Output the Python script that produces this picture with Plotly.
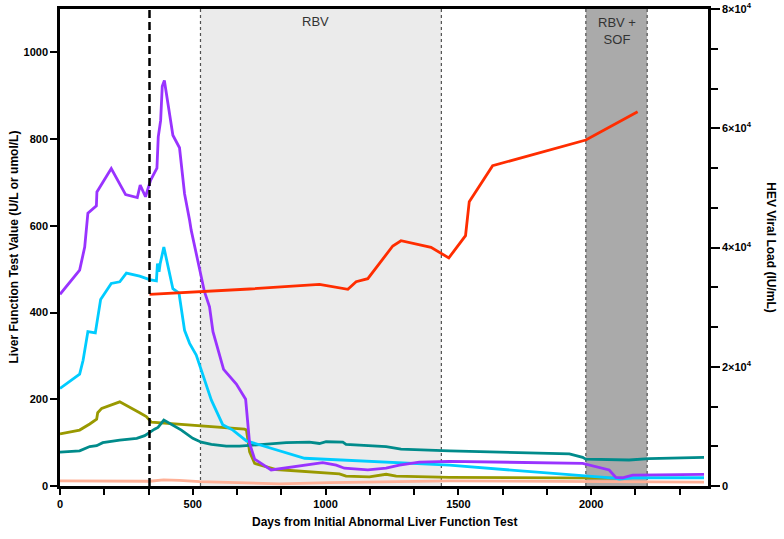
import plotly.graph_objects as go

# ---------------- data ----------------
purple_days = [0, 74, 93, 105, 137, 139, 193, 247, 291, 302, 322, 341, 365, 370, 379, 385, 393,
               425, 450, 469, 488, 494, 544, 563, 576, 616, 664, 699, 714, 733, 795, 927, 989,
               1040, 1071, 1159, 1228, 1278, 1353, 1466, 1968, 2068, 2093, 2118, 2156, 2425]
purple_vals = [442, 498, 551, 629, 646, 678, 732, 672, 665, 694, 667, 705, 733, 805, 843, 922, 935,
               809, 780, 674, 613, 590, 448, 413, 356, 269, 235, 200, 98, 62, 37, 48, 54,
               48, 41, 37, 41, 48, 55, 57, 52, 37, 20, 19, 25, 27]

blue_days = [0, 74, 87, 105, 133, 153, 193, 225, 250, 300, 337, 363, 367, 373, 377, 391, 425,
             448, 469, 488, 513, 570, 613, 651, 702, 921, 1466, 1968, 2087, 2106, 2156, 2425]
blue_vals = [225, 258, 290, 356, 353, 430, 467, 471, 491, 484, 476, 473, 513, 494, 512, 551, 455,
             445, 359, 329, 302, 198, 141, 129, 104, 64, 48, 25, 18, 16, 19, 19]

olive_days = [0, 74, 112, 138, 142, 157, 225, 247, 300, 325, 344, 695, 702, 714, 733, 814, 939,
              1052, 1077, 1165, 1228, 1266, 1466, 2093]
olive_vals = [120, 129, 143, 154, 169, 179, 194, 187, 169, 160, 147, 131, 129, 79, 52, 38, 32,
              28, 23, 21, 27, 23, 20, 18]

teal_days = [0, 74, 112, 138, 161, 225, 289, 319, 356, 369, 391, 425, 457, 500, 532, 570, 626,
             676, 714, 764, 852, 939, 977, 1002, 1065, 1077, 1228, 1284, 1466, 1918, 1968, 1980,
             2143, 2218, 2425]
teal_vals = [78, 81, 91, 93, 100, 106, 110, 116, 131, 135, 152, 141, 129, 110, 101, 96, 92,
             92, 94, 96, 100, 101, 98, 102, 101, 96, 91, 85, 81, 74, 66, 62,
             60, 63, 66]

salmon_days = [0, 200, 337, 390, 450, 526, 827, 1015, 1466, 2425]
salmon_vals = [12, 11, 11, 14, 13, 10, 5, 8, 12, 9]

hev_days = [337, 714, 977, 1015, 1084, 1115, 1159, 1253, 1284, 1397, 1464, 1527, 1541, 1629,
            1980, 2175]
hev_vals = [32150, 33040, 33820, 33540, 32990, 34260, 34770, 40250, 41140, 40030, 38250,
            41980, 47680, 53720, 58030, 62770]

treatment_start = 337
rbv_period = [529, 1436]
rbv_sof_period = [1980, 2211]

x_ticks = [0, 500, 1000, 1500, 2000]
y_ticks = [0, 200, 400, 600, 800, 1000]
y2_ticks = [0, 20000, 40000, 60000, 80000]
y2_labels = ["0", "2×10<sup>4</sup>", "4×10<sup>4</sup>", "6×10<sup>4</sup>", "8×10<sup>4</sup>"]

# ---------------- figure ----------------
FONT = "Liberation Sans"
fig = go.Figure()

lw = 2.8
fig.add_trace(go.Scatter(x=salmon_days, y=salmon_vals, mode="lines",
                         line=dict(color="rgb(255,176,150)", width=lw), showlegend=False))
fig.add_trace(go.Scatter(x=olive_days, y=olive_vals, mode="lines",
                         line=dict(color="rgb(153,153,0)", width=lw), showlegend=False))
fig.add_trace(go.Scatter(x=teal_days, y=teal_vals, mode="lines",
                         line=dict(color="rgb(0,139,139)", width=lw), showlegend=False))
fig.add_trace(go.Scatter(x=blue_days, y=blue_vals, mode="lines",
                         line=dict(color="rgb(0,204,255)", width=lw), showlegend=False))
fig.add_trace(go.Scatter(x=purple_days, y=purple_vals, mode="lines",
                         line=dict(color="rgb(153,51,255)", width=lw), showlegend=False))
fig.add_trace(go.Scatter(x=hev_days, y=hev_vals, mode="lines", yaxis="y2",
                         line=dict(color="rgb(255,45,0)", width=lw), showlegend=False))

# shaded treatment periods
fig.add_shape(type="rect", xref="x", yref="paper", x0=rbv_period[0], x1=rbv_period[1],
              y0=0, y1=1, fillcolor="rgb(235,235,235)", line=dict(width=0), layer="below")
fig.add_shape(type="rect", xref="x", yref="paper", x0=rbv_sof_period[0], x1=rbv_sof_period[1],
              y0=0, y1=1, fillcolor="rgb(170,170,170)", line=dict(width=0), layer="below")
for xv in rbv_period + rbv_sof_period:
    fig.add_shape(type="line", xref="x", yref="paper", x0=xv, x1=xv, y0=0, y1=1,
                  line=dict(color="rgb(80,80,80)", width=1.2, dash="dot"), layer="below")

fig.add_shape(type="line", xref="x", yref="paper", x0=treatment_start, x1=treatment_start,
              y0=0, y1=1, line=dict(color="black", width=2.5, dash="8px,4px"), layer="above")

fig.add_annotation(text="RBV", xref="x", yref="paper", x=(rbv_period[0] + rbv_period[1]) / 2 - 20,
                   y=0.973, yanchor="middle", showarrow=False,
                   font=dict(family=FONT, size=13, color="#333333"))
fig.add_annotation(text="RBV +<br>SOF", xref="x", yref="paper",
                   x=(rbv_sof_period[0] + rbv_sof_period[1]) / 2, y=0.992, yanchor="top",
                   showarrow=False, align="center",
                   font=dict(family=FONT, size=13, color="#333333"))

# axis titles
fig.add_annotation(text="Days from Initial Abnormal Liver Function Test", xref="paper",
                   yref="paper", x=0.5, y=-0.0755, yanchor="middle", showarrow=False,
                   font=dict(family=FONT, size=12, color="black", weight="bold"))
fig.add_annotation(text="Liver Function Test Value (U/L or umol/L)", xref="paper",
                   yref="paper", x=-0.0725, y=0.5, textangle=-90, showarrow=False,
                   xanchor="center",
                   font=dict(family=FONT, size=12, color="black", weight="bold"))
fig.add_annotation(text="HEV Viral Load (IU/mL)", xref="paper", yref="paper",
                   x=1.0975, y=0.5, textangle=90, showarrow=False, xanchor="center",
                   font=dict(family=FONT, size=12, color="black", weight="bold"))

tickfont = dict(family=FONT, size=11, color="black", weight="bold")
fig.update_layout(
    width=784, height=539,
    margin=dict(l=60, r=76, t=9, b=53, autoexpand=False),
    plot_bgcolor="white", paper_bgcolor="white",
    xaxis=dict(range=[0, 2440], tickvals=x_ticks, showgrid=False, zeroline=False,
               automargin=False,
               showline=True, linecolor="black", linewidth=2.5, mirror=True,
               ticks="outside", ticklen=6, tickwidth=2, tickcolor="black",
               minor=dict(dtick=500 / 3, tick0=0, ticks="outside", ticklen=6, tickwidth=2,
                          tickcolor="black", showgrid=False),
               tickfont=tickfont),
    yaxis=dict(range=[0, 1100], tickvals=y_ticks, showgrid=False, zeroline=False,
               automargin=False,
               showline=True, linecolor="black", linewidth=2.5,
               ticks="outside", ticklen=7, tickwidth=2, tickcolor="black", tickfont=tickfont),
    yaxis2=dict(range=[0, 80000], overlaying="y", side="right", tickvals=y2_ticks,
                automargin=False,
                ticktext=y2_labels, showgrid=False, zeroline=False, showline=True,
                linecolor="black", linewidth=2.5, ticks="outside", ticklen=9, tickwidth=2,
                tickcolor="black",
                minor=dict(dtick=80000 / 12, tick0=0, ticks="outside", ticklen=7,
                           tickwidth=2, tickcolor="black", showgrid=False),
                tickfont=dict(family=FONT, size=11, color="black", weight="bold")),
)

fig.write_html("out.html", config={"displayModeBar": False},
               post_script="document.body.style.margin='0';document.body.style.padding='0';")
